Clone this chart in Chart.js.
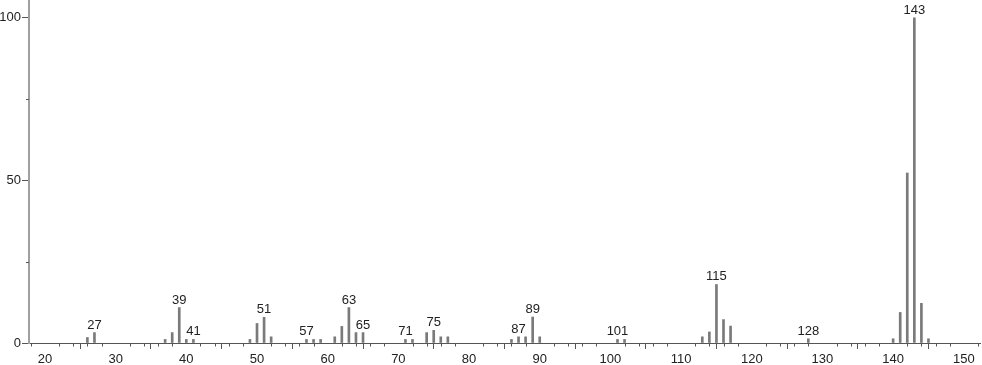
<!DOCTYPE html>
<html>
<head>
<meta charset="utf-8">
<script src="https://cdn.jsdelivr.net/npm/chart.js@4/dist/chart.umd.min.js"></script>
<style>
  html, body { margin: 0; padding: 0; background: #ffffff; }
  #wrap { width: 982px; height: 365px; position: relative; }
</style>
</head>
<body>
<div id="wrap"><canvas id="c" width="982" height="365"></canvas></div>
<script>
// ---- data ----
const mz = [26, 27, 37, 38, 39, 40, 41, 49, 50, 51, 52, 57, 58, 59, 61, 62, 63, 64, 65,
            71, 72, 74, 75, 76, 77, 86, 87, 88, 89, 90, 101, 102,
            113, 114, 115, 116, 117, 128, 140, 141, 142, 143, 144, 145];
const intensity = [1.7, 3.2, 1.1, 3.2, 10.9, 1.1, 1.1, 1.1, 6.0, 7.9, 1.9, 1.1, 1.1, 1.1, 1.9, 5.1, 10.9, 3.2, 3.2,
                   1.1, 1.1, 3.2, 3.9, 1.9, 1.9, 1.1, 1.9, 1.9, 8.0, 1.9, 1.1, 1.1,
                   1.9, 3.4, 18.0, 7.2, 5.2, 1.3, 1.3, 9.4, 52.3, 100, 12.2, 1.3];
const peakLabels = [27, 39, 41, 51, 57, 63, 65, 71, 75, 87, 89, 101, 115, 128, 143];
const xTickLabels = [20, 30, 40, 50, 60, 70, 80, 90, 100, 110, 120, 130, 140, 150];
const xMinorTicks = [18, 22, 24, 26, 28, 32, 34, 36, 38, 42, 44, 46, 48, 52, 54, 56, 58, 62, 64, 66, 68,
                     72, 74, 76, 78, 82, 84, 86, 88, 92, 94, 96, 98, 102, 104, 106, 108, 112, 114, 116, 118,
                     122, 124, 126, 128, 132, 134, 136, 138, 142, 144, 146, 148, 152];
const yTickLabels = [0, 50, 100];
const yMinorTicks = [25, 75];

const FONT = "'Liberation Sans', Arial, sans-serif";

const extraDraw = {
  id: 'extraDraw',
  afterDraw(chart) {
    const ctx = chart.ctx;
    const xs = chart.scales.x, ys = chart.scales.y;
    const y0 = ys.getPixelForValue(0);
    ctx.save();
    ctx.strokeStyle = '#555555';
    ctx.lineWidth = 1;
    ctx.beginPath();
    xMinorTicks.forEach(v => {
      const px = Math.round(xs.getPixelForValue(v)) + 0.5;
      ctx.moveTo(px, y0);
      ctx.lineTo(px, y0 + 3.5);
    });
    yMinorTicks.forEach(v => {
      const py = Math.round(ys.getPixelForValue(v)) + 0.5;
      ctx.moveTo(xs.left - 3, py);
      ctx.lineTo(xs.left, py);
    });
    ctx.stroke();
    const meta = chart.getDatasetMeta(0);
    ctx.fillStyle = '#222222';
    ctx.font = '13px ' + FONT;
    ctx.textAlign = 'center';
    ctx.textBaseline = 'alphabetic';
    peakLabels.forEach(p => {
      const i = mz.indexOf(p);
      if (i < 0) return;
      const el = meta.data[i];
      ctx.fillText(String(p), el.x, el.y - 4);
    });
    ctx.restore();
  }
};

new Chart(document.getElementById('c'), {
  type: 'bar',
  data: {
    datasets: [{
      data: mz.map((m, i) => ({ x: m, y: intensity[i] })),
      backgroundColor: '#7a7a7a',
      borderWidth: 0,
      barThickness: 2,
      grouped: false
    }]
  },
  options: {
    responsive: false,
    devicePixelRatio: 1,
    animation: false,
    layout: { padding: { left: 0, right: 2, top: 1, bottom: 0 } },
    plugins: { legend: { display: false }, tooltip: { enabled: false } },
    scales: {
      x: {
        type: 'linear',
        min: 17.74,
        max: 152.29,
        offset: false,
        afterBuildTicks(scale) { scale.ticks = xTickLabels.map(v => ({ value: v })); },
        afterFit(scale) { scale.height = 22; scale.paddingLeft = 0; scale.paddingRight = 0; },
        ticks: {
          autoSkip: false,
          maxRotation: 0,
          padding: 3,
          color: '#222222',
          font: { family: FONT, size: 13 },
          callback: v => String(v)
        },
        grid: { display: true, drawOnChartArea: false, drawTicks: true, tickLength: 6, color: '#555555' },
        border: { display: true, color: '#555555', width: 1 }
      },
      y: {
        min: 0,
        max: 105.2,
        afterBuildTicks(scale) { scale.ticks = yTickLabels.map(v => ({ value: v })); },
        afterFit(scale) { scale.width = 29; scale.paddingTop = 0; scale.paddingBottom = 0; },
        ticks: {
          padding: 1,
          color: '#222222',
          font: { family: FONT, size: 13 },
          callback: v => String(v)
        },
        grid: { display: true, drawOnChartArea: false, drawTicks: true, tickLength: 7, color: '#555555' },
        border: { display: true, color: '#a0a0a0', width: 2 }
      }
    }
  },
  plugins: [extraDraw]
});
</script>
</body>
</html>
